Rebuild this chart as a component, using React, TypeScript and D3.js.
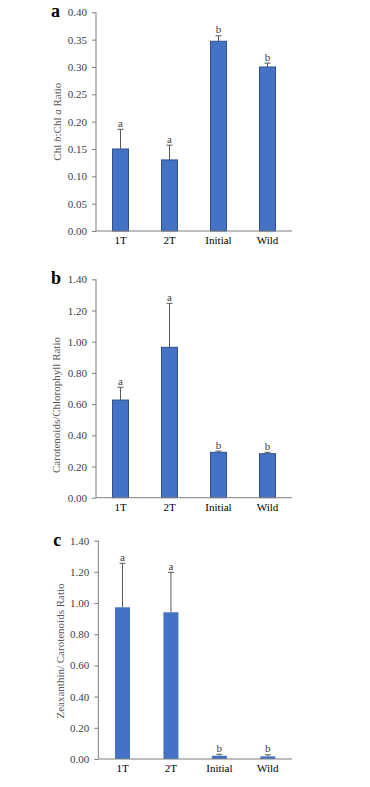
import { useEffect, useRef } from "react";
import * as d3 from "d3";

const categories = ["1T", "2T", "Initial", "Wild"];

const chlRatio = [0.15, 0.13, 0.347, 0.3];
const chlErr = [0.036, 0.027, 0.01, 0.007];
const chlLetters = ["a", "a", "b", "b"];

const carRatio = [0.626, 0.964, 0.291, 0.282];
const carErr = [0.082, 0.282, 0.008, 0.009];
const carLetters = ["a", "a", "b", "b"];

const zeaRatio = [0.973, 0.941, 0.021, 0.017];
const zeaErr = [0.282, 0.256, 0.009, 0.01];
const zeaLetters = ["a", "a", "b", "b"];

const chlTicks = [0, 0.05, 0.1, 0.15, 0.2, 0.25, 0.3, 0.35, 0.4];
const ratioTicks = [0, 0.2, 0.4, 0.6, 0.8, 1.0, 1.2, 1.4];

const FONT = "'Liberation Serif', 'Times New Roman', serif";

interface Panel {
  tag: string;
  values: number[];
  errors: number[];
  letters: string[];
  ticks: number[];
  max: number;
  box: { left: number; right: number; top: number; bottom: number };
  titleX: number;
  titleY: number;
  outline: boolean;
  barW: number;
}

const panels: Panel[] = [
  {
    tag: "a",
    values: chlRatio,
    errors: chlErr,
    letters: chlLetters,
    ticks: chlTicks,
    max: 0.4,
    box: { left: 96, right: 292, top: 12.3, bottom: 231 },
    titleX: 61,
    titleY: 121.7,
    outline: true,
    barW: 16,
  },
  {
    tag: "b",
    values: carRatio,
    errors: carErr,
    letters: carLetters,
    ticks: ratioTicks,
    max: 1.4,
    box: { left: 96, right: 292, top: 279.3, bottom: 497.7 },
    titleX: 60,
    titleY: 405,
    outline: true,
    barW: 16,
  },
  {
    tag: "c",
    values: zeaRatio,
    errors: zeaErr,
    letters: zeaLetters,
    ticks: ratioTicks,
    max: 1.4,
    box: { left: 98.3, right: 292, top: 540.7, bottom: 759 },
    titleX: 64,
    titleY: 651,
    outline: false,
    barW: 15,
  },
];

export default function App() {
  const ref = useRef<SVGSVGElement | null>(null);

  useEffect(() => {
    if (!ref.current) return;
    const svg = d3.select(ref.current);
    svg.selectAll("*").remove();

    panels.forEach((p, pi) => {
      const { left, right, top, bottom } = p.box;
      const g = svg.append("g").attr("font-family", FONT);

      const x = d3.scaleBand<string>().domain(categories).range([left, right]);
      const y = d3.scaleLinear().domain([0, p.max]).range([bottom, top]);

      // bars
      g.append("g")
        .selectAll("rect")
        .data(p.values)
        .join("rect")
        .attr("x", (_, i) => x(categories[i])! + x.bandwidth() / 2 - p.barW / 2)
        .attr("width", p.barW)
        .attr("y", (d) => y(d))
        .attr("height", (d) => bottom - y(d))
        .attr("fill", "#4472c4")
        .attr("stroke", p.outline ? "#2f528f" : "none")
        .attr("stroke-width", 1);

      // error bars (upper only)
      const eb = g.append("g").attr("stroke", "#595959").attr("stroke-width", 1);
      p.values.forEach((v, i) => {
        const cx = x(categories[i])! + x.bandwidth() / 2;
        const yTop = y(v + p.errors[i]);
        eb.append("line").attr("x1", cx).attr("x2", cx).attr("y1", y(v)).attr("y2", yTop);
        eb.append("line").attr("x1", cx - 3).attr("x2", cx + 3).attr("y1", yTop).attr("y2", yTop);
        g.append("text")
          .attr("x", cx)
          .attr("y", yTop - 2.5)
          .attr("text-anchor", "middle")
          .attr("font-size", 11)
          .attr("fill", "#404040")
          .text(p.letters[i]);
      });

      // y axis
      const yAxis = g
        .append("g")
        .attr("transform", `translate(${left},0)`)
        .call(
          d3
            .axisLeft(y)
            .tickValues(p.ticks)
            .tickSize(4)
            .tickPadding(5)
            .tickFormat(d3.format(".2f"))
        );
      yAxis.select(".domain").attr("stroke", "#7f7f7f").attr("d", `M0,${top}V${bottom}`);
      yAxis.selectAll(".tick line").attr("stroke", "#7f7f7f");
      yAxis
        .selectAll(".tick text")
        .attr("font-family", FONT)
        .attr("font-size", 11)
        .attr("fill", "#404040");

      // x axis
      const xAxis = g
        .append("g")
        .attr("transform", `translate(0,${bottom})`)
        .call(d3.axisBottom(x).tickSize(0).tickPadding(10));
      xAxis.select(".domain").attr("stroke", "#7f7f7f").attr("d", `M${left},0H${right}`);
      xAxis
        .selectAll(".tick text")
        .attr("font-family", FONT)
        .attr("font-size", 11)
        .attr("fill", "#000")
        .attr("dy", "0.3em");

      // panel tag
      g.append("text")
        .attr("x", left - 45)
        .attr("y", top + 5)
        .attr("font-size", 18)
        .attr("font-weight", "bold")
        .attr("fill", "#000")
        .text(p.tag);

      // y title
      const title = g
        .append("text")
        .attr("transform", `translate(${p.titleX},${p.titleY}) rotate(-90)`)
        .attr("text-anchor", "middle")
        .attr("font-size", 11)
        .attr("fill", "#595959");
      if (pi === 0) {
        title.append("tspan").text("Chl ");
        title.append("tspan").attr("font-style", "italic").text("b");
        title.append("tspan").text(":Chl ");
        title.append("tspan").attr("font-style", "italic").text("a");
        title.append("tspan").text(" Ratio");
      } else if (pi === 1) {
        title.text("Carotenoids/Chlorophyll Ratio");
      } else {
        title.text("Zeaxanthin/ Carotenoids Ratio");
      }
    });
  }, []);

  return (
    <svg
      ref={ref}
      width={370}
      height={787}
      style={{ position: "absolute", left: 0, top: 0, background: "#fff" }}
    />
  );
}
